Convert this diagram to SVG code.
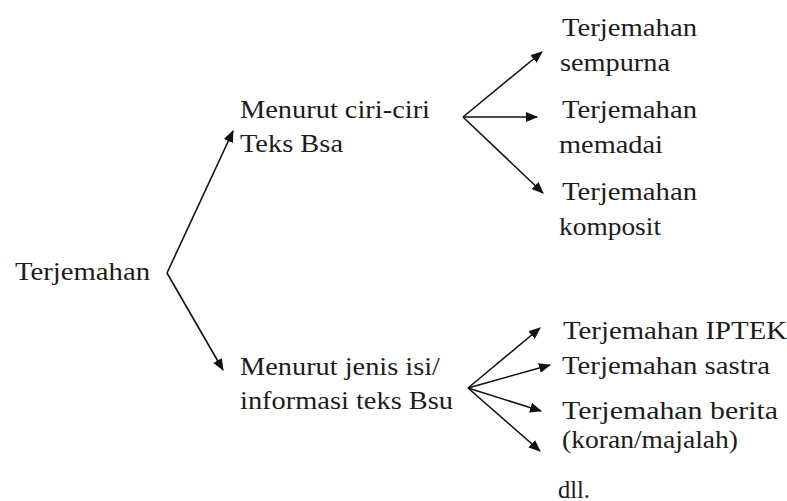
<svg xmlns="http://www.w3.org/2000/svg" width="787" height="501" viewBox="0 0 787 501">
<defs>
<marker id="arr" viewBox="0 0 12 10" refX="11" refY="5" markerWidth="12" markerHeight="10" markerUnits="userSpaceOnUse" orient="auto">
<path d="M0,0 L12,5 L0,10 z" fill="#111"/>
</marker>
</defs>
<style>
text{font-family:'Liberation Serif','Times New Roman','DejaVu Serif',serif;font-size:25px;fill:#1c1c1c}
.c line{stroke:#111;stroke-width:1.6;fill:none}
.a{marker-end:url(#arr)}
</style>
<rect width="787" height="501" fill="#fff"/>
<g id="n-root"><text x="15" y="280" textLength="135" lengthAdjust="spacingAndGlyphs">Terjemahan</text></g>
<g id="n-ciri"><text x="240" y="118" textLength="190" lengthAdjust="spacingAndGlyphs">Menurut ciri-ciri</text><text x="240" y="152" textLength="103" lengthAdjust="spacingAndGlyphs">Teks Bsa</text></g>
<g id="n-jenis"><text x="240" y="375" textLength="200" lengthAdjust="spacingAndGlyphs">Menurut jenis isi/</text><text x="240" y="409" textLength="213" lengthAdjust="spacingAndGlyphs">informasi teks Bsu</text></g>
<g id="n-sempurna"><text x="562" y="36" textLength="135" lengthAdjust="spacingAndGlyphs">Terjemahan</text><text x="560" y="71" textLength="110" lengthAdjust="spacingAndGlyphs">sempurna</text></g>
<g id="n-memadai"><text x="562" y="118" textLength="135" lengthAdjust="spacingAndGlyphs">Terjemahan</text><text x="559" y="153" textLength="104" lengthAdjust="spacingAndGlyphs">memadai</text></g>
<g id="n-komposit"><text x="562" y="200" textLength="135" lengthAdjust="spacingAndGlyphs">Terjemahan</text><text x="559" y="235" textLength="102" lengthAdjust="spacingAndGlyphs">komposit</text></g>
<g id="n-iptek"><text x="563" y="339" textLength="224" lengthAdjust="spacingAndGlyphs">Terjemahan IPTEK</text></g>
<g id="n-sastra"><text x="562" y="374" textLength="208" lengthAdjust="spacingAndGlyphs">Terjemahan sastra</text></g>
<g id="n-berita"><text x="562" y="419" textLength="216" lengthAdjust="spacingAndGlyphs">Terjemahan berita</text><text x="562" y="448" textLength="176" lengthAdjust="spacingAndGlyphs">(koran/majalah)</text></g>
<g id="n-dll"><text x="558" y="498" textLength="32" lengthAdjust="spacingAndGlyphs">dll.</text></g>
<g id="connectors" class="c">
<line class="a" x1="167" y1="273" x2="233" y2="131"/>
<line class="a" x1="167" y1="273" x2="223" y2="370"/>
<line class="a" x1="463" y1="117" x2="542" y2="52"/>
<line class="a" x1="463" y1="117" x2="537" y2="117"/>
<line class="a" x1="463" y1="117" x2="543" y2="193"/>
<line class="a" x1="468" y1="388" x2="540" y2="328"/>
<line class="a" x1="468" y1="388" x2="550" y2="365"/>
<line class="a" x1="468" y1="388" x2="541" y2="411"/>
<line class="a" x1="468" y1="388" x2="540" y2="451"/>
</g>
</svg>
